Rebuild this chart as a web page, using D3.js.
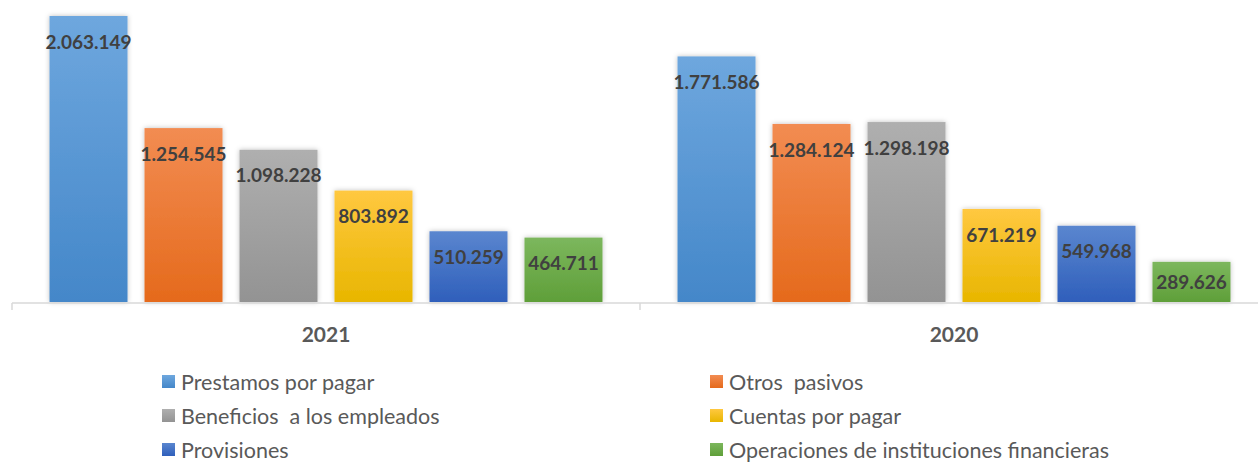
<!DOCTYPE html>
<html>
<head>
<meta charset="utf-8">
<script src="https://cdn.jsdelivr.net/npm/d3@7"></script>
<style>
  body { margin: 0; background: #fff; }
  svg { display: block; }
</style>
</head>
<body>
<div id="chart"></div>
<script>
// chart data
const years = ['2021', '2020']
const seriesNames = ['Prestamos por pagar', 'Otros  pasivos', 'Beneficios  a los empleados', 'Cuentas por pagar', 'Provisiones', 'Operaciones de instituciones financieras']
const values2021 = [2063149, 1254545, 1098228, 803892, 510259, 464711]
const values2020 = [1771586, 1284124, 1298198, 671219, 549968, 289626]

// gradient top / bottom colours per series
const colorsTop = ['#6ea7de', '#f28c52', '#afafaf', '#ffc840', '#5a86cf', '#7cb75d']
const colorsBottom = ['#4487c9', '#e56a1c', '#939393', '#e8b600', '#2f5fbb', '#5f9f39']

const width = 1258, height = 463
const baseY = 302

const svg = d3.select('#chart').append('svg')
    .attr('width', width)
    .attr('height', height)

const defs = svg.append('defs')
seriesNames.forEach((s, i) => {
    const g = defs.append('linearGradient')
        .attr('id', 'grad' + i)
        .attr('x1', 0).attr('y1', 0).attr('x2', 0).attr('y2', 1)
    g.append('stop').attr('offset', '0%').attr('stop-color', colorsTop[i])
    g.append('stop').attr('offset', '100%').attr('stop-color', colorsBottom[i])
})
const shadow = defs.append('filter').attr('id', 'shadow')
    .attr('x', '-20%').attr('y', '-20%').attr('width', '140%').attr('height', '140%')
shadow.append('feDropShadow')
    .attr('dx', 0).attr('dy', 0).attr('stdDeviation', 2.5)
    .attr('flood-color', '#000').attr('flood-opacity', 0.25)

const x0 = d3.scaleBand()
    .domain(years)
    .range([12, 1268])

const x1 = d3.scaleBand()
    .domain(seriesNames)
    .range([0, x0.bandwidth()])
    .paddingInner(0.179)
    .paddingOuter(0.395)

const y = d3.scaleLinear()
    .domain([0, 2063149])
    .range([baseY, 16])

const dataByYear = { '2021': values2021, '2020': values2020 }

const rows = years.flatMap(yr => seriesNames.map((s, i) => ({ year: yr, series: s, idx: i, value: dataByYear[yr][i] })))

const fmt = v => d3.format(',')(v).replace(/,/g, '.')

// bars
svg.append('g')
    .selectAll('rect')
    .data(rows)
    .join('rect')
    .attr('x', d => x0(d.year) + x1(d.series))
    .attr('y', d => y(d.value))
    .attr('width', x1.bandwidth())
    .attr('height', d => baseY - y(d.value))
    .attr('fill', d => 'url(#grad' + d.idx + ')')
    .attr('filter', 'url(#shadow)')

// value labels
svg.append('g')
    .selectAll('text')
    .data(rows)
    .join('text')
    .attr('x', d => x0(d.year) + x1(d.series) + x1.bandwidth() / 2)
    .attr('y', d => Math.min(y(d.value) + 26, (y(d.value) + baseY) / 2))
    .attr('dy', '0.35em')
    .attr('text-anchor', 'middle')
    .attr('font-family', 'Lato, sans-serif')
    .attr('font-weight', 700)
    .attr('font-size', 19)
    .attr('fill', '#404040')
    .text(d => fmt(d.value))

// x axis
const axis = svg.append('g')
axis.append('line')
    .attr('x1', 12).attr('x2', width)
    .attr('y1', baseY + 1).attr('y2', baseY + 1)
    .attr('stroke', '#d9d9d9').attr('stroke-width', 1.5)
axis.selectAll('line.tick')
    .data(years.map(yr => x0(yr)))
    .join('line')
    .attr('class', 'tick')
    .attr('x1', d => d).attr('x2', d => d)
    .attr('y1', baseY + 1).attr('y2', baseY + 8)
    .attr('stroke', '#d9d9d9').attr('stroke-width', 1.5)
axis.selectAll('text')
    .data(years)
    .join('text')
    .attr('x', d => x0(d) + x0.bandwidth() / 2)
    .attr('y', 335)
    .attr('dy', '0.35em')
    .attr('text-anchor', 'middle')
    .attr('font-family', 'Lato, sans-serif')
    .attr('font-weight', 700)
    .attr('font-size', 21)
    .attr('fill', '#595959')
    .text(d => d)

// legend
const legend = svg.append('g')
const legendX = [162, 710]
const legendY = [382, 416, 450]
const items = legend.selectAll('g')
    .data(seriesNames)
    .join('g')
    .attr('transform', (d, i) => `translate(${legendX[i % 2]},${legendY[Math.floor(i / 2)]})`)
items.append('rect')
    .attr('x', 0).attr('y', -7)
    .attr('width', 13).attr('height', 13)
    .attr('fill', (d, i) => 'url(#grad' + i + ')')
items.append('text')
    .attr('x', 19)
    .attr('dy', '0.35em')
    .attr('font-family', 'Lato, sans-serif')
    .attr('font-size', 21.5)
    .attr('fill', '#595959')
    .attr('xml:space', 'preserve')
    .style('white-space', 'pre')
    .text(d => d)
</script>
</body>
</html>
